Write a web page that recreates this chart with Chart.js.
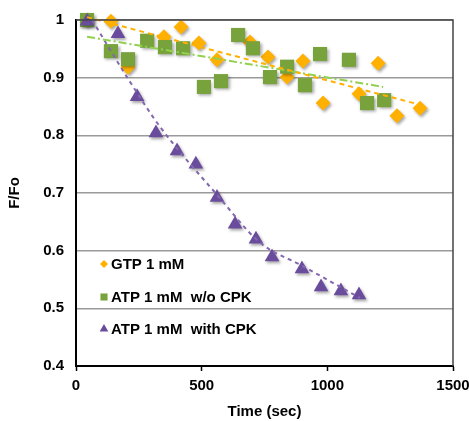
<!DOCTYPE html>
<html>
<head>
<meta charset="utf-8">
<script src="https://cdn.jsdelivr.net/npm/chart.js@4/dist/chart.umd.min.js"></script>
<style>
  html, body { margin: 0; padding: 0; background: #fff; }
  #wrap { width: 469px; height: 421px; }
</style>
</head>
<body>
<div id="wrap"><canvas id="chart" width="469" height="421"></canvas></div>
<script>
// values (time in sec, F/Fo)
const gtpTime  = [44, 139, 207, 350, 418, 489, 561, 692, 764, 840, 903, 983, 1126, 1202, 1277, 1369];
const gtpValue = [1.0, 0.998, 0.918, 0.971, 0.988, 0.960, 0.931, 0.962, 0.936, 0.901, 0.929, 0.856, 0.872, 0.925, 0.834, 0.847];

const atpTime  = [44, 139, 207, 283, 354, 426, 509, 577, 645, 704, 772, 840, 911, 971, 1086, 1158, 1226];
const atpValue = [1.0, 0.946, 0.932, 0.964, 0.953, 0.951, 0.884, 0.894, 0.974, 0.951, 0.901, 0.919, 0.887, 0.941, 0.931, 0.856, 0.861];

const cpkTime  = [44, 167, 243, 318, 402, 477, 561, 633, 716, 780, 899, 975, 1054, 1126];
const cpkValue = [0.998, 0.976, 0.867, 0.804, 0.773, 0.750, 0.692, 0.646, 0.620, 0.589, 0.568, 0.537, 0.530, 0.523];

// trend lines as drawn in the picture
const gtpTrendTime  = [44, 1369];
const gtpTrendValue = [1.005, 0.853];
const atpTrendTime  = [44, 1222];
const atpTrendValue = [0.971, 0.884];
const cpkTrendTime  = [64, 203, 334, 561, 732, 899, 1130];
const cpkTrendValue = [1.0, 0.901, 0.815, 0.697, 0.614, 0.574, 0.518];

const seriesNames = ['GTP 1 mM', 'ATP 1 mM  w/o CPK', 'ATP 1 mM  with CPK'];
const xTicks = [0, 500, 1000, 1500];

const ORANGE = '#FFB000';
const GREEN = '#77A23C';
const PURPLE = '#6A4C9C';

const toPoints = (xs, ys) => xs.map((x, i) => ({ x: x, y: ys[i] }));

const FONT = "'Liberation Sans', Arial, sans-serif";

// Excel-ish soft shadow under the markers
const markerShadow = {
    id: 'markerShadow',
    beforeDatasetDraw(chart, args) {
        if (!args.meta._dataset.isMarker) return;
        const ctx = chart.ctx;
        ctx.save();
        ctx.shadowColor = 'rgba(0,0,0,0.35)';
        ctx.shadowBlur = 3;
        ctx.shadowOffsetX = 1.5;
        ctx.shadowOffsetY = 2;
    },
    afterDatasetDraw(chart, args) {
        if (!args.meta._dataset.isMarker) return;
        chart.ctx.restore();
    }
};

// top / right frame and the legend inside the plot
const frameAndLegend = {
    id: 'frameAndLegend',
    afterDraw(chart) {
        const ctx = chart.ctx;
        const a = chart.chartArea;
        ctx.save();
        ctx.strokeStyle = '#444';
        ctx.lineWidth = 1.5;
        ctx.beginPath();
        ctx.moveTo(a.left, a.top);
        ctx.lineTo(a.right, a.top);
        ctx.lineTo(a.right, a.bottom);
        ctx.stroke();

        const rows = [264, 297, 329];
        const styles = ['rectRot', 'rect', 'triangle'];
        const colors = [ORANGE, GREEN, PURPLE];
        const radii = [4, 5, 5];
        ctx.font = 'bold 15px ' + FONT;
        ctx.textBaseline = 'middle';
        ctx.textAlign = 'left';
        rows.forEach((y, i) => {
            ctx.fillStyle = colors[i];
            ctx.strokeStyle = colors[i];
            Chart.helpers.drawPoint(ctx, { pointStyle: styles[i], radius: radii[i], borderWidth: 0, rotation: 0 }, 104, y);
            ctx.fillStyle = '#000';
            ctx.fillText(seriesNames[i], 111, y + 1);
        });
        ctx.restore();
    }
};

new Chart(document.getElementById('chart'), {
    type: 'scatter',
    data: {
        datasets: [
            {
                label: 'gtp trend', data: toPoints(gtpTrendTime, gtpTrendValue),
                showLine: true, pointRadius: 0, borderColor: ORANGE, borderWidth: 2,
                borderDash: [5, 4], order: 0, clip: false
            },
            {
                label: 'atp trend', data: toPoints(atpTrendTime, atpTrendValue),
                showLine: true, pointRadius: 0, borderColor: '#92D050', borderWidth: 2,
                borderDash: [8, 3, 2, 3], order: 0, clip: false
            },
            {
                label: 'cpk trend', data: toPoints(cpkTrendTime, cpkTrendValue),
                showLine: true, pointRadius: 0, borderColor: '#8467B0', borderWidth: 2,
                borderDash: [4, 4], cubicInterpolationMode: 'monotone', order: 0, clip: false
            },
            {
                label: seriesNames[2], data: toPoints(cpkTime, cpkValue), isMarker: true,
                pointStyle: 'triangle', pointRadius: 8.5, backgroundColor: PURPLE,
                borderColor: PURPLE, borderWidth: 0, order: 1, clip: false
            },
            {
                label: seriesNames[1], data: toPoints(atpTime, atpValue), isMarker: true,
                pointStyle: 'rect', pointRadius: 10, backgroundColor: GREEN,
                borderColor: GREEN, borderWidth: 0, order: 2, clip: false
            },
            {
                label: seriesNames[0], data: toPoints(gtpTime, gtpValue), isMarker: true,
                pointStyle: 'rectRot', pointRadius: 7.5, backgroundColor: ORANGE,
                borderColor: ORANGE, borderWidth: 0, order: 3, clip: false
            }
        ]
    },
    options: {
        responsive: false,
        animation: false,
        events: [],
        layout: { padding: { top: 20, right: 16, left: 0, bottom: 0 } },
        plugins: {
            legend: { display: false },
            tooltip: { enabled: false }
        },
        scales: {
            x: {
                type: 'linear', min: 0, max: 1500,
                afterBuildTicks: (scale) => { scale.ticks = xTicks.map(v => ({ value: v })); },
                afterFit: (scale) => {
                    scale.height = 55;
                    scale.paddingLeft = 0;
                    scale.paddingRight = 0;
                },
                ticks: {
                    color: '#000', padding: 6,
                    font: { family: FONT, size: 15, weight: 'bold' },
                    callback: (v) => String(v)
                },
                grid: {
                    drawOnChartArea: false, drawTicks: true, tickLength: 5,
                    tickColor: '#000', tickWidth: 1.5
                },
                border: { color: '#000', width: 2 },
                title: {
                    display: true, text: 'Time (sec)', color: '#000',
                    font: { family: FONT, size: 15, weight: 'bold' },
                    padding: { top: 0, bottom: 0 }
                }
            },
            y: {
                min: 0.4, max: 1,
                afterFit: (scale) => {
                    scale.width = 76;
                    scale.paddingTop = 0;
                    scale.paddingBottom = 0;
                },
                ticks: {
                    stepSize: 0.1, color: '#000', padding: 12,
                    font: { family: FONT, size: 15, weight: 'bold' },
                    callback: (v) => (Math.abs(v - 1) < 1e-9 ? '1' : v.toFixed(1))
                },
                grid: { color: '#9A9A9A', lineWidth: 1.5, drawTicks: false },
                border: { color: '#000', width: 2 },
                title: {
                    display: true, text: 'F/Fo', color: '#000',
                    font: { family: FONT, size: 15, weight: 'bold' },
                    padding: { top: 6, bottom: 0 }
                }
            }
        }
    },
    plugins: [markerShadow, frameAndLegend]
});
</script>
</body>
</html>
